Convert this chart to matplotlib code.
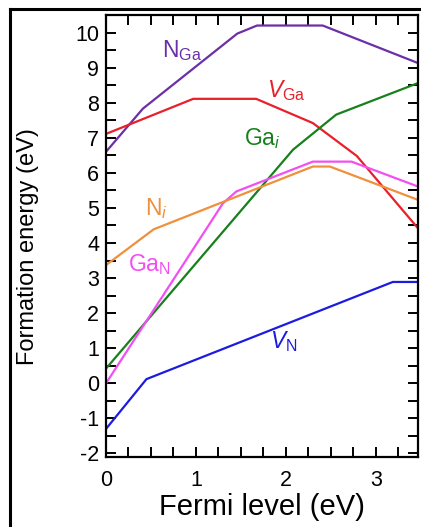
import matplotlib
matplotlib.use('Agg')
import matplotlib.pyplot as plt
from matplotlib.lines import Line2D
from matplotlib.ticker import MultipleLocator

plt.rcParams['font.family'] = ['Liberation Sans', 'DejaVu Sans']
plt.rcParams['mathtext.fontset'] = 'custom'
plt.rcParams['mathtext.rm'] = 'Liberation Sans'
plt.rcParams['mathtext.it'] = 'Liberation Sans:italic'
plt.rcParams['axes.unicode_minus'] = False

# formation energy vs Fermi level
N_Ga_x = [0.0, 0.41, 1.46, 1.68, 2.41, 3.47]
N_Ga_y = [6.60, 7.83, 9.97, 10.20, 10.20, 9.13]

V_Ga_x = [0.0, 0.97, 1.67, 2.30, 2.79, 3.47]
V_Ga_y = [7.11, 8.11, 8.11, 7.42, 6.48, 4.42]

Ga_i_x = [0.0, 2.08, 2.56, 3.47]
Ga_i_y = [0.42, 6.66, 7.66, 8.56]

Ga_N_x = [0.0, 1.30, 1.45, 2.30, 2.73, 3.47]
Ga_N_y = [0.0, 5.13, 5.47, 6.32, 6.32, 5.61]

N_i_x = [0.0, 0.53, 2.30, 2.49, 3.47]
N_i_y = [3.37, 4.39, 6.18, 6.18, 5.23]

V_N_x = [0.0, 0.45, 3.19, 3.47]
V_N_y = [-1.30, 0.12, 2.89, 2.89]

fig = plt.figure(figsize=(4.21, 5.27), dpi=100)
ax = fig.add_axes([106/421, 1-457/527, (418-106)/421, (457-15)/527])

lw = 1.6
ax.plot(N_Ga_x, N_Ga_y, color='#6b2fa6', lw=lw)
ax.plot(V_Ga_x, V_Ga_y, color='#e8202a', lw=lw)
ax.plot(Ga_i_x, Ga_i_y, color='#17801c', lw=lw)
ax.plot(Ga_N_x, Ga_N_y, color='#f24ff2', lw=lw)
ax.plot(N_i_x, N_i_y, color='#f0903c', lw=lw)
ax.plot(V_N_x, V_N_y, color='#1c1ce0', lw=lw)

lab = dict(fontsize=16.5, ha='left', va='baseline')
ax.text(0.62, 9.31, r'N$_{\mathregular{Ga}}$', color='#6b2fa6', **lab)
ax.text(1.79, 8.17, r'$V_{\mathregular{Ga}}$', color='#e8202a', **lab)
ax.text(1.54, 6.80, r'Ga$_{i}$', color='#17801c', **lab)
ax.text(0.43, 4.80, r'N$_{i}$', color='#f0903c', **lab)
ax.text(0.245, 3.21, r'Ga$_{\mathregular{N}}$', color='#f24ff2', **lab)
ax.text(1.82, 1.00, r'$V_{\mathregular{N}}$', color='#1c1ce0', **lab)

ax.set_xlim(0, 3.47)
ax.set_ylim(-2.1, 10.5)
ax.xaxis.set_major_locator(MultipleLocator(1))
ax.xaxis.set_minor_locator(MultipleLocator(0.25))
ax.yaxis.set_major_locator(MultipleLocator(1))
ax.yaxis.set_minor_locator(MultipleLocator(0.5))
ax.tick_params(which='both', direction='in', top=True, right=True,
               length=7, width=1.4, labelsize=15.5)
ax.tick_params(axis='x', pad=9)
ax.tick_params(axis='y', pad=5)
for s in ax.spines.values():
    s.set_linewidth(1.6)

ax.set_xlabel('Fermi level (eV)', fontsize=21)
ax.set_ylabel('Formation energy (eV)', fontsize=17)
ax.xaxis.set_label_coords(0.5, -(507-457)/442, transform=ax.transAxes)
ax.yaxis.set_label_coords(-(106-28)/312, (457-247)/442, transform=ax.transAxes)
ax.xaxis.label.set_va('center')
ax.yaxis.label.set_va('center')

# outer frame (left and top edges visible)
fl, ft = 10/421, 1 - 9/527
fig.add_artist(Line2D([fl, fl], [0, ft], transform=fig.transFigure, color='k', lw=2.2))
fig.add_artist(Line2D([fl, 1], [ft, ft], transform=fig.transFigure, color='k', lw=2.2))

fig.savefig('out.png', dpi=100)
